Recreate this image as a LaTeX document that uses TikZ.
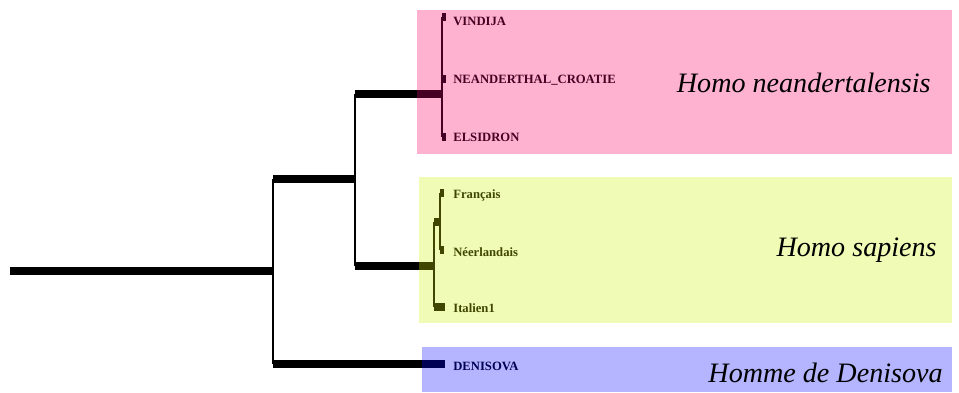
\documentclass[tikz,border=0pt]{standalone}
\usepackage{fontspec}
\setmainfont{Liberation Serif}
\usetikzlibrary{positioning}
\definecolor{neapink}{RGB}{255,178,208}
\definecolor{sapyellow}{RGB}{240,252,182}
\definecolor{denblue}{RGB}{180,180,255}
\definecolor{neadark}{RGB}{70,0,35}
\definecolor{sapdark}{RGB}{64,70,0}
\definecolor{dendark}{RGB}{0,0,85}

\begin{document}
\begin{tikzpicture}[x=0.02cm,y=-0.02cm]
\tikzstyle{branch} = [line width=4pt, line cap=butt]
\tikzstyle{stem} = [line width=0.8pt]
\tikzstyle{leaf} = [anchor=west, inner sep=0pt, font=\fontsize{7.2}{8}\selectfont\bfseries]
\tikzstyle{taxon} = [anchor=east, inner sep=0pt, font=\fontsize{16}{19}\selectfont\itshape]

\useasboundingbox (0,0) rectangle (959,392);
\fill[neapink] (417,10) rectangle (952,154);
\fill[sapyellow] (419,177) rectangle (952,323);
\fill[denblue] (422,347) rectangle (952,392);

\coordinate (root) at (10,271);
\coordinate (r) at (273,271);
\coordinate (rt) at (273,179);
\coordinate (rb) at (273,364);
\coordinate (a) at (355,179);
\coordinate (at) at (355,94);
\coordinate (ab) at (355,266);
\coordinate (neain) at (417,94);
\coordinate (nea) at (442,94);
\coordinate (sapin) at (419,266);
\coordinate (sap) at (434,266);
\coordinate (denin) at (422,364);
\coordinate (den) at (445,364);

\coordinate (nea1) at (442,17);
\coordinate (nea2) at (442,79);
\coordinate (nea3) at (442,137);
\coordinate (vin) at (446,17);
\coordinate (cro) at (446,79);
\coordinate (els) at (446,137);

\coordinate (sap1) at (434,222);
\coordinate (sap3) at (434,307);
\coordinate (fn) at (440,222);
\coordinate (fn1) at (440,193);
\coordinate (fn2) at (440,250);
\coordinate (fra) at (444,193);
\coordinate (nee) at (444,250);
\coordinate (ita) at (445,307);

\draw[branch] (root) -- (r);
\draw[stem] (rt) -- (rb);
\draw[branch] (rt) -- (a);
\draw[stem] (at) -- (ab);
\draw[branch] (at) -- (neain);
\draw[branch, neadark] (neain) -- (nea);
\draw[branch] (ab) -- (sapin);
\draw[branch, sapdark] (sapin) -- (sap);
\draw[branch] (rb) -- (denin);
\draw[branch, dendark] (denin) -- (den);

\draw[stem, neadark] (nea1) -- (nea3);
\draw[branch, neadark] (nea1) -- (vin);
\draw[branch, neadark] (nea2) -- (cro);
\draw[branch, neadark] (nea3) -- (els);

\draw[stem, sapdark] (sap1) -- (sap3);
\draw[branch, sapdark] (sap1) -- (fn);
\draw[stem, sapdark] (fn1) -- (fn2);
\draw[branch, sapdark] (fn1) -- (fra);
\draw[branch, sapdark] (fn2) -- (nee);
\draw[branch, sapdark] (sap3) -- (ita);

\node[leaf, neadark] (vindija) at (453,21) {VINDIJA};
\node[leaf, neadark] (croatie) at (453,80) {NEANDERTHAL\_CROATIE};
\node[leaf, neadark] (elsidron) at (453,137) {ELSIDRON};
\node[leaf, sapdark] (francais) at (453,195) {Français};
\node[leaf, sapdark] (neerl) at (453,252) {Néerlandais};
\node[leaf, sapdark] (italien) at (453,308) {Italien1};
\node[leaf, dendark] (denisova) at (453,366) {DENISOVA};

\node[taxon] (neand) at (931,83) {Homo neandertalensis};
\node[taxon] (sapiens) at (937,250) {Homo sapiens};
\node[taxon] (denis) at (943,373) {Homme de Denisova};
\end{tikzpicture}
\end{document}
